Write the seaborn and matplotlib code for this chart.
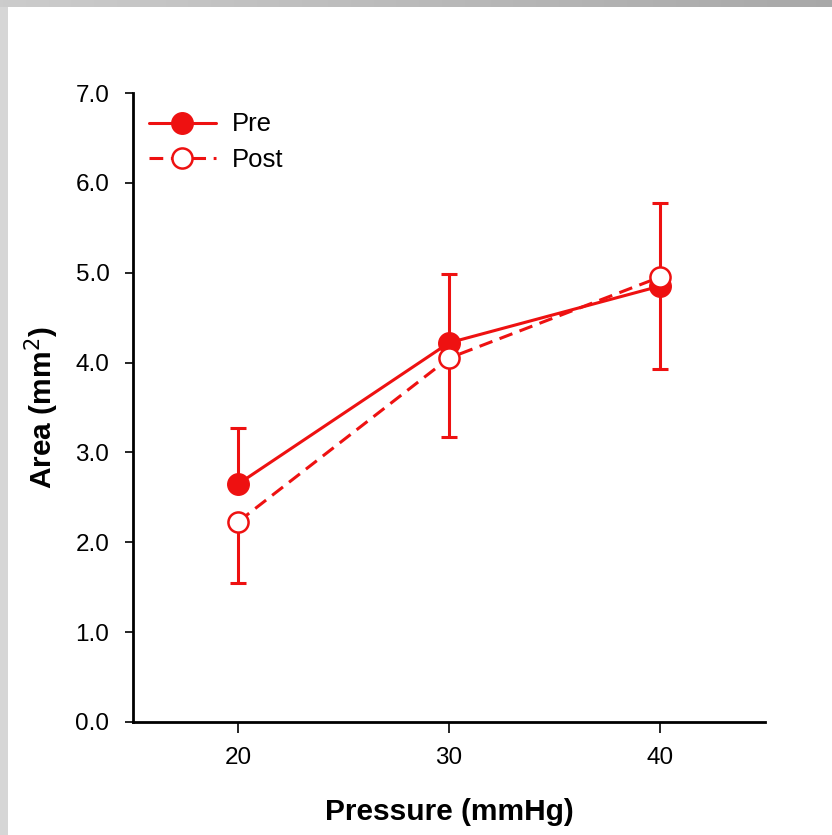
import numpy as np
import pandas as pd
import matplotlib
matplotlib.use("Agg")
import matplotlib.pyplot as plt
import seaborn as sns

# Mean lumen area (mm^2) and SEM at each inflation pressure
pressure = [20, 30, 40]
pre_mean = [2.65, 4.22, 4.85]
pre_sem = [0.62, 0.77, 0.93]
post_mean = [2.23, 4.05, 4.95]
post_sem = [0.68, 0.88, 1.02]

y_ticks = [0, 1, 2, 3, 4, 5, 6, 7]
x_ticks = [20, 30, 40]

sns.set_style("ticks")
plt.rcParams["font.family"] = ["Liberation Sans", "DejaVu Sans"]
plt.rcParams["text.color"] = "black"
plt.rcParams["axes.labelcolor"] = "black"

RED = "#ee1111"

df_pre = pd.DataFrame({"Pressure": pressure, "Area": pre_mean})
df_post = pd.DataFrame({"Pressure": pressure, "Area": post_mean})

fig = plt.figure(figsize=(8.32, 8.35), dpi=100)
fig.patch.set_facecolor("white")

# slide-style grey frame along the top and left edges
top = fig.add_axes([0, 1 - 7 / 835, 1, 7 / 835])
grad = np.linspace(0.80, 0.66, 256).reshape(1, -1)
top.imshow(np.dstack([grad, grad, grad]), aspect="auto", extent=[0, 1, 0, 1])
top.set_axis_off()
left = fig.add_axes([0, 0, 8 / 832, 1 - 7 / 835])
left.set_facecolor("#d6d6d6")
left.set_xticks([])
left.set_yticks([])
for s in left.spines.values():
    s.set_visible(False)

ax = fig.add_axes([133 / 832, 1 - 722 / 835, (765 - 133) / 832, (722 - 93) / 835])

# one-sided error bars: Pre upward, Post downward
ax.errorbar(pressure, pre_mean, yerr=[np.zeros(3), pre_sem], fmt="none",
            ecolor=RED, elinewidth=2.2, capsize=6.0, capthick=2.2, zorder=2)
ax.errorbar(pressure, post_mean, yerr=[post_sem, np.zeros(3)], fmt="none",
            ecolor=RED, elinewidth=2.2, capsize=6.0, capthick=2.2, zorder=2)

sns.lineplot(data=df_pre, x="Pressure", y="Area", ax=ax, color=RED,
             linewidth=2.2, marker="o", markersize=15.5,
             markerfacecolor=RED, markeredgecolor=RED, markeredgewidth=1,
             label="Pre", zorder=3)
sns.lineplot(data=df_post, x="Pressure", y="Area", ax=ax, color=RED,
             linewidth=2.2, linestyle=(0, (4.5, 2.5)), marker="o",
             markersize=14.5, markerfacecolor="white", markeredgecolor=RED,
             markeredgewidth=1.8, label="Post", zorder=4)

ax.set_xlim(15, 45)
ax.set_ylim(0, 7)
ax.set_xticks(x_ticks)
ax.set_yticks(y_ticks)
ax.set_yticklabels([f"{v:.1f}" for v in y_ticks])

ax.set_xlabel("Pressure (mmHg)", fontsize=21.5, fontweight="bold",
              labelpad=21, color="black")
ax.set_ylabel("Area (mm$^2$)", fontsize=21.5, fontweight="bold",
              labelpad=10, color="black")

for side in ("top", "right"):
    ax.spines[side].set_visible(False)
for side in ("left", "bottom"):
    ax.spines[side].set_linewidth(2.0)
    ax.spines[side].set_color("black")

ax.tick_params(axis="y", direction="out", length=6, width=1.2, pad=11,
               labelsize=17.5, colors="black")
ax.tick_params(axis="x", direction="out", length=8, width=1.2, pad=10,
               labelsize=17.5, colors="black")

leg = ax.legend(loc="upper left", bbox_to_anchor=(0.025, 0.969), frameon=False,
                fontsize=18.5, handlelength=2.6, handletextpad=0.65,
                labelspacing=0.46, borderpad=0, borderaxespad=0,
                labelcolor="black")

fig.savefig("out.png", dpi=100, facecolor="white")
